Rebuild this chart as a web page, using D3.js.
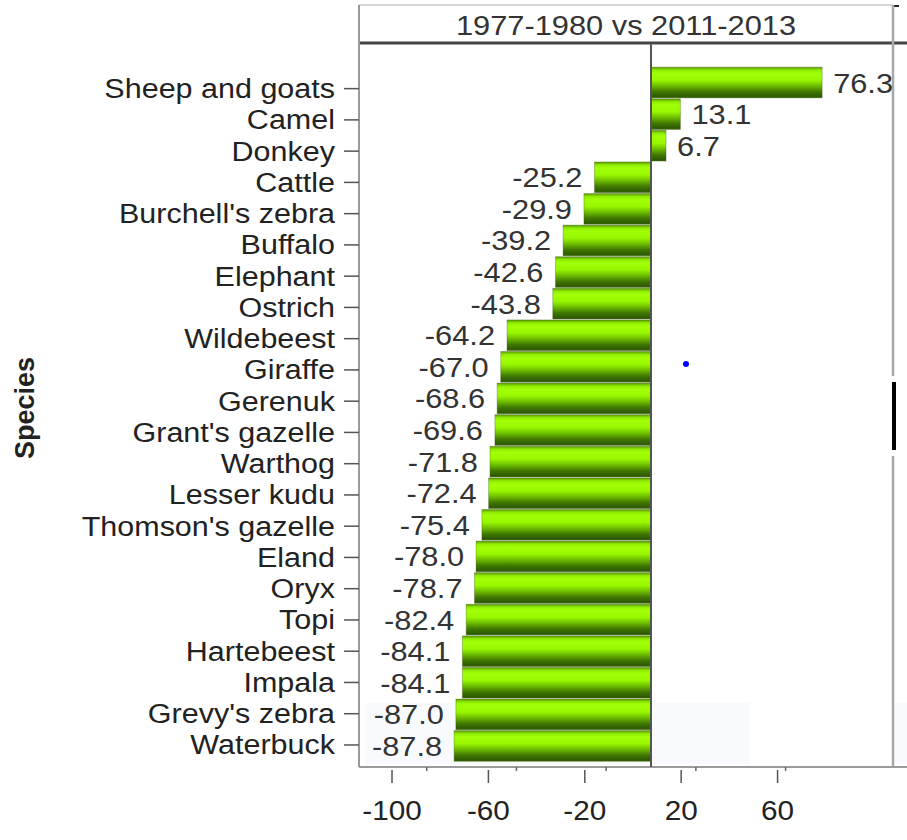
<!DOCTYPE html>
<html>
<head>
<meta charset="utf-8">
<script src="https://cdn.jsdelivr.net/npm/d3@7"></script>
<style>
  body { margin: 0; background: #fff; }
  svg { display: block; font-family: "Liberation Sans", Arial, sans-serif; }
</style>
</head>
<body>
<svg id="chart"></svg>
<script>
// data
const species = ["Sheep and goats", "Camel", "Donkey", "Cattle", "Burchell's zebra", "Buffalo",
  "Elephant", "Ostrich", "Wildebeest", "Giraffe", "Gerenuk", "Grant's gazelle", "Warthog",
  "Lesser kudu", "Thomson's gazelle", "Eland", "Oryx", "Topi", "Hartebeest", "Impala",
  "Grevy's zebra", "Waterbuck"];
const change = [76.3, 13.1, 6.7, -25.2, -29.9, -39.2, -42.6, -43.8, -64.2, -67.0, -68.6, -69.6,
  -71.8, -72.4, -75.4, -78.0, -78.7, -82.4, -84.1, -84.1, -87.0, -87.8];
const xTicks = [-100, -60, -20, 20, 60];
const panelTitle = "1977-1980 vs 2011-2013";
const yTitle = "Species";

const width = 907;
const height = 840;
const svg = d3.select("#chart").attr("width", width).attr("height", height);

// plot frame
const frame = { left: 359, right: 893, top: 5, header: 43, bottom: 767 };

// bars and the printed axis don't line up in the original, so two x scales
const xBar = d3.scaleLinear().domain([-130.2, 107.9]).range([frame.left, frame.right]);
const xAxisScale = d3.scaleLinear().domain([-113.7, 107.9]).range([frame.left, frame.right]);

const yBar = d3.scaleBand().domain(species).range([67.2, 761.3]).paddingInner(0.03);
const yTick = d3.scaleBand().domain(species).range([73, 760.6]);

// plain hyphen minus, like the original
const fmt = d => d.toFixed(1);
const stretch = 1.1;

// gradient for the bars
const defs = svg.append("defs");
const grad = defs.append("linearGradient")
  .attr("id", "barGrad")
  .attr("x1", 0).attr("y1", 0).attr("x2", 0).attr("y2", 1);
[[0, "#5c9a00"], [0.1, "#90ee00"], [0.2, "#a2ff08"], [0.42, "#98f800"], [0.6, "#70c000"],
 [0.8, "#407800"], [0.95, "#2e5c00"], [1, "#3a6a00"]]
  .forEach(([o, c]) => grad.append("stop").attr("offset", o).attr("stop-color", c));

// faint watermark boxes
svg.append("rect").attr("x", 365).attr("y", 703).attr("width", 385).attr("height", 62).attr("fill", "#f8fafd");
svg.append("rect").attr("x", 895).attr("y", 703).attr("width", 12).attr("height", 62).attr("fill", "#f8fafd");

// header box
svg.append("line").attr("x1", frame.left).attr("x2", frame.right).attr("y1", frame.top).attr("y2", frame.top)
  .attr("stroke", "#c8c8c8").attr("stroke-width", 1.5);
svg.append("line").attr("x1", frame.right).attr("x2", frame.right + 6).attr("y1", frame.top + 1).attr("y2", frame.top + 1)
  .attr("stroke", "#222").attr("stroke-width", 2);
svg.append("text")
  .attr("transform", `translate(${(frame.left + frame.right) / 2}, 25) scale(${stretch},1)`)
  .attr("text-anchor", "middle")
  .attr("dominant-baseline", "central")
  .attr("font-size", "28px")
  .attr("fill", "#333")
  .text(panelTitle);
svg.append("line").attr("x1", frame.left).attr("x2", width).attr("y1", frame.header).attr("y2", frame.header)
  .attr("stroke", "#444").attr("stroke-width", 3);

// frame lines
svg.append("line").attr("x1", frame.left).attr("x2", frame.left).attr("y1", frame.top).attr("y2", frame.bottom)
  .attr("stroke", "#9a9a9a").attr("stroke-width", 2);
svg.append("line").attr("x1", frame.right).attr("x2", frame.right).attr("y1", frame.top).attr("y2", 376)
  .attr("stroke", "#a8a8a8").attr("stroke-width", 2.5);
svg.append("line").attr("x1", frame.right).attr("x2", frame.right).attr("y1", 456).attr("y2", frame.bottom)
  .attr("stroke", "#a8a8a8").attr("stroke-width", 2.5);
svg.append("rect").attr("x", frame.right - 1).attr("y", 382).attr("width", 4).attr("height", 68).attr("fill", "#000");
svg.append("line").attr("x1", frame.left).attr("x2", width).attr("y1", frame.bottom).attr("y2", frame.bottom)
  .attr("stroke", "#9a9a9a").attr("stroke-width", 2);

// bars
svg.append("g")
  .selectAll("rect")
  .data(change)
  .join("rect")
  .attr("x", d => xBar(Math.min(0, d)))
  .attr("y", (d, i) => yBar(species[i]))
  .attr("width", d => Math.abs(xBar(d) - xBar(0)))
  .attr("height", yBar.bandwidth())
  .attr("fill", "url(#barGrad)")
  .attr("stroke", "rgba(40,70,0,0.3)")
  .attr("stroke-width", 1);

// zero line
svg.append("line").attr("x1", xBar(0)).attr("x2", xBar(0)).attr("y1", frame.header).attr("y2", frame.bottom)
  .attr("stroke", "#555").attr("stroke-width", 2);

// value labels
svg.append("g")
  .selectAll("text")
  .data(change)
  .join("text")
  .attr("transform", (d, i) => {
    const x = d >= 0 ? xBar(d) + 11 : xBar(d) - 12;
    const y = yBar(species[i]) + yBar.bandwidth() / 2;
    return `translate(${x},${y}) scale(${stretch},1)`;
  })
  .attr("text-anchor", d => d >= 0 ? "start" : "end")
  .attr("dominant-baseline", "central")
  .attr("font-size", "28px")
  .attr("fill", "#333")
  .text(d => fmt(d));

// y axis ticks and labels
const yg = svg.append("g");
yg.selectAll("line")
  .data(species)
  .join("line")
  .attr("x1", frame.left - 15).attr("x2", frame.left)
  .attr("y1", d => yTick(d) + yTick.bandwidth() / 2)
  .attr("y2", d => yTick(d) + yTick.bandwidth() / 2)
  .attr("stroke", "#555").attr("stroke-width", 1.5);
yg.selectAll("text")
  .data(species)
  .join("text")
  .attr("transform", d => `translate(335,${yTick(d) + yTick.bandwidth() / 2}) scale(1.13,1)`)
  .attr("text-anchor", "end")
  .attr("dominant-baseline", "central")
  .attr("font-size", "27px")
  .attr("fill", "#222")
  .text(d => d);

// small ticks of the bar scale
svg.append("g")
  .selectAll("line")
  .data(xTicks)
  .join("line")
  .attr("x1", d => xBar(d)).attr("x2", d => xBar(d))
  .attr("y1", frame.bottom).attr("y2", frame.bottom + 4)
  .attr("stroke", "#666").attr("stroke-width", 1.5);

// printed x axis
const xg = svg.append("g");
xg.selectAll("line")
  .data(xTicks)
  .join("line")
  .attr("x1", d => xAxisScale(d)).attr("x2", d => xAxisScale(d))
  .attr("y1", 770).attr("y2", 783)
  .attr("stroke", "#555").attr("stroke-width", 1.5);
xg.selectAll("text")
  .data(xTicks)
  .join("text")
  .attr("transform", d => `translate(${xAxisScale(d)},820) scale(${stretch},1)`)
  .attr("text-anchor", "middle")
  .attr("font-size", "27px")
  .attr("fill", "#222")
  .text(d => d);

// y axis title
svg.append("text")
  .attr("transform", "translate(25,408) rotate(-90)")
  .attr("text-anchor", "middle")
  .attr("dominant-baseline", "central")
  .attr("font-size", "27px")
  .attr("font-weight", "bold")
  .attr("fill", "#222")
  .text(yTitle);

// stray blue dot
svg.append("circle").attr("cx", 686).attr("cy", 364).attr("r", 3).attr("fill", "#0000ff");
</script>
</body>
</html>
